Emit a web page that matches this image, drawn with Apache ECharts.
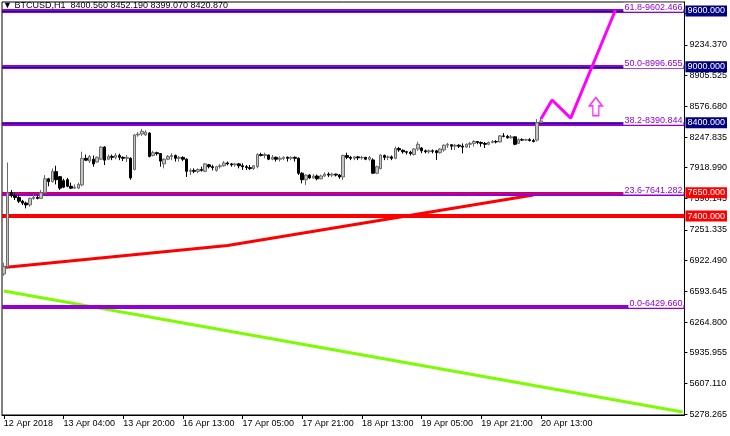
<!DOCTYPE html>
<html>
<head>
<meta charset="utf-8">
<script src="https://cdn.jsdelivr.net/npm/echarts@6/dist/echarts.min.js"></script>
<style>html,body{margin:0;padding:0;background:#fff}#c{width:730px;height:436px}</style>
</head>
<body>
<div id="c"></div>
<script>
// ---------- data ----------
const barCount = 183; // hourly slots incl. empty future area
const tickLabels = ['12 Apr 2018','13 Apr 04:00','13 Apr 20:00','16 Apr 13:00','17 Apr 05:00','17 Apr 21:00','18 Apr 13:00','19 Apr 05:00','19 Apr 21:00','20 Apr 13:00'];
const tickStep = 16;
const yTickValues = [9573.180,9234.370,8905.525,8576.680,8247.835,7918.990,7590.145,7251.335,6922.490,6593.645,6264.800,5935.955,5607.110,5278.265];

const opens = [6780,6858,7650,7620,7600,7560,7540,7520,7590,7600,
 7590,7650,7800,7770,7877,7823,7780,7790,7720,7700,
 7700,7734,8020,7990,8010,7980,8010,8140,8010,8040,
 8030,8050,8030,8020,8020,7900,8270,8280,8270,8290,
 8050,8080,8070,7960,8010,8040,8050,8020,8030,8010,
 7880,7890,7880,7900,7880,7950,7930,7890,7930,7940,
 7970,7960,7950,7960,7940,7930,7920,7910,7930,8060,
 8050,8055,8010,8030,8010,8020,8030,8020,8030,8020,
 7860,7790,7840,7810,7830,7800,7830,7850,7840,7850,
 7840,7820,8050,8030,8020,8035,8025,8030,8010,8002,
 7860,7910,8050,8030,8035,8020,8125,8105,8090,8085,
 8060,8120,8130,8100,8090,8100,8100,8080,8110,8160,
 8165,8150,8160,8150,8140,8170,8180,8200,8190,8180,
 8170,8190,8200,8195,8260,8255,8240,8250,8180,8220,
 8215,8220,8210,8215,8400.56];
const closes = [6858,7650,7620,7600,7560,7540,7520,7590,7600,7590,
 7650,7800,7770,7880,7790,7700,7710,7720,7700,7710,
 7740,8019,8000,8040,7960,8030,8140,8000,8040,8030,
 8050,8030,8020,8030,7810,8270,8280,8310,8300,8040,
 8080,8070,7990,8010,8040,8050,8020,8030,8010,7880,
 7890,7880,7900,7890,7960,7930,7920,7930,7940,7970,
 7960,7950,7960,7940,7930,7920,7910,7940,8060,8050,
 8060,8010,8030,8010,8020,8030,8020,8030,8020,7860,
 7790,7840,7810,7830,7800,7830,7850,7840,7850,7840,
 7820,8050,8030,8020,8035,8025,8030,8010,8030,7860,
 7930,8055,8030,8035,8020,8125,8110,8090,8085,8070,
 8120,8170,8100,8090,8100,8095,8080,8120,8160,8170,
 8150,8160,8150,8140,8170,8180,8200,8190,8180,8170,
 8190,8200,8195,8260,8255,8240,8250,8170,8220,8215,
 8220,8210,8200,8400,8420.87];
const lows = [6760,6840,7600,7573,7540,7519,7483,7500,7575,7580,
 7585,7640,7720,7760,7740,7680,7700,7710,7690,7690,
 7690,7720,7990,7970,7930,7975,8000,7948,8000,8000,
 8010,8000,7990,7980,7790,7890,8250,8260,8260,8030,
 8040,8050,7930,7912,8000,8000,7985,7985,7990,7820,
 7840,7860,7860,7877,7870,7912,7890,7877,7910,7930,
 7945,7930,7930,7912,7895,7895,7895,7895,7912,8040,
 8020,8000,8000,7985,7985,8000,7985,8000,7985,7841,
 7751,7734,7800,7800,7785,7795,7820,7820,7820,7825,
 7800,7787,8010,8000,8000,8000,8005,8000,7995,7852,
 7850,7900,8000,8000,8000,8010,8090,8070,8060,8050,
 8050,8100,8075,8073,8070,8073,8002,8070,8090,8130,
 8110,8110,8130,8073,8130,8130,8145,8170,8145,8130,
 8160,8180,8180,8190,8245,8230,8230,8160,8175,8205,
 8205,8200,8190,8200,8399.07];
const highs = [6900,7975,7680,7650,7630,7575,7555,7600,7640,7625,
 7680,7840,7810,7912,7940,7830,7800,7810,7760,7740,
 7760,8091,8060,8055,8050,8040,8150,8150,8060,8060,
 8075,8070,8040,8055,8030,8280,8300,8335,8320,8300,
 8100,8090,8075,8020,8055,8075,8060,8045,8040,8020,
 7912,7912,7912,7930,7970,7960,7950,7940,7960,7990,
 7985,7970,7970,7970,7965,7948,7948,7948,8075,8080,
 8080,8060,8055,8040,8040,8040,8040,8040,8040,8030,
 7870,7850,7850,7850,7845,7845,7870,7870,7865,7855,
 7850,8060,8080,8045,8045,8045,8045,8035,8045,8020,
 7940,8065,8060,8050,8050,8145,8140,8115,8100,8100,
 8130,8197,8140,8115,8115,8115,8110,8130,8170,8185,
 8170,8175,8170,8180,8180,8195,8215,8200,8200,8195,
 8200,8215,8215,8270,8290,8270,8270,8255,8235,8235,
 8230,8235,8230,8440,8452.19];

const headerOHLC = [8400.560, 8452.190, 8399.070, 8420.870];
const navyLevels = [9600, 9000, 8400];
const redLevels = [7650, 7400];
const fiboRatios = ['61.8','50.0','38.2','23.6','0.0'];
const fiboValues = [9602.466, 8996.655, 8390.844, 7641.282, 6429.660];
const redTrend = [[0, 6850], [60, 7085], [142, 7627]];
const greenTrend = [[0, 6597], [182, 5300]];
const projection = [[144, 8440], [147, 8645], [152, 8450], [164, 9610]];
const arrowPoint = [[159, 8575]];

// ---------- chart ----------
const FONT = "'Liberation Sans', Arial, sans-serif";
const PURPLE = '#9400D3', NAVY = '#000080', RED = '#FF0000';
const categories = Array.from({length: barCount}, (_, i) => i);
const candleData = opens.map((o, i) => [o, closes[i], lows[i], highs[i]]);
const showTick = (idx) => idx % tickStep === 0 && idx / tickStep < tickLabels.length;

const markData = [];
fiboValues.forEach((v, i) => {
  markData.push({
    yAxis: v,
    lineStyle: {color: PURPLE, width: 4, type: 'solid'},
    label: {show: true, position: 'insideEndTop', formatter: fiboRatios[i] + '-' + v.toFixed(3),
      color: PURPLE, fontSize: 9, fontFamily: FONT, backgroundColor: '#fff', padding: [0, 1, 0, 1], distance: [1, -1]}
  });
});
navyLevels.forEach(v => {
  markData.push({
    yAxis: v,
    lineStyle: {color: NAVY, width: 1, type: 'solid'},
    label: {show: true, position: 'end', formatter: v.toFixed(3), color: '#fff', backgroundColor: NAVY,
      fontSize: 9, fontFamily: FONT, padding: [1, 2, 1, 2], distance: 1}
  });
});
redLevels.forEach((v, i) => {
  markData.push({
    yAxis: v,
    lineStyle: {color: RED, width: i === 0 ? 1 : 4, type: 'solid'},
    label: {show: true, position: 'end', formatter: v.toFixed(3), color: '#fff', backgroundColor: RED,
      fontSize: 9, fontFamily: FONT, padding: [1, 2, 1, 2], distance: 1}
  });
});

const chart = echarts.init(document.getElementById('c'), null, {renderer: 'canvas'});
chart.setOption({
  animation: false,
  backgroundColor: '#fff',
  title: {
    text: '\u25BC BTCUSD,H1  ' + headerOHLC.map(v => v.toFixed(3)).join(' '),
    left: 3, top: 1, padding: 0,
    textStyle: {fontSize: 9, fontWeight: 'normal', color: '#000', fontFamily: FONT}
  },
  grid: {left: 2, right: 44, top: 2, bottom: 21, show: true, borderColor: '#000', borderWidth: 1},
  xAxis: {
    type: 'category', data: categories, boundaryGap: true,
    axisLine: {show: true, lineStyle: {color: '#000', width: 1}},
    axisTick: {show: true, interval: (idx) => showTick(idx), alignWithLabel: true, length: 4, lineStyle: {color: '#000'}},
    axisLabel: {interval: (idx) => showTick(idx), formatter: (v, idx) => tickLabels[idx / tickStep] || '',
      align: 'left', fontSize: 9, color: '#000', fontFamily: FONT, margin: 4},
    splitLine: {show: false}
  },
  yAxis: {
    type: 'value', position: 'right', min: 5268.0, max: 9695.4,
    splitLine: {show: false},
    axisLine: {show: true, lineStyle: {color: '#000'}},
    axisTick: {show: true, length: 3, customValues: yTickValues, lineStyle: {color: '#000'}},
    axisLabel: {customValues: yTickValues, formatter: (v) => v.toFixed(3), fontSize: 9, color: '#000', fontFamily: FONT, margin: 5}
  },
  series: [
    {
      type: 'line', data: greenTrend, showSymbol: false, symbol: 'none',
      lineStyle: {color: '#7CFC00', width: 3}, z: 1, silent: true
    },
    {
      type: 'line', data: redTrend, showSymbol: false, symbol: 'none',
      lineStyle: {color: RED, width: 3}, z: 1, silent: true
    },
    {
      type: 'candlestick', data: candleData, barWidth: 3, z: 3,
      itemStyle: {color: '#c4c4c4', color0: '#000', borderColor: '#6a6a6a', borderColor0: '#000', borderWidth: 1},
      markLine: {silent: true, symbol: ['none', 'none'], animation: false, data: markData, z: 2}
    },
    {
      type: 'line', data: projection, showSymbol: false, symbol: 'none',
      lineStyle: {color: '#FF00FF', width: 3}, z: 4, silent: true
    },
    {
      type: 'scatter', data: arrowPoint, z: 4, silent: true,
      symbol: 'path://M6.5,0 L13,8 L9.5,8 L9.5,17 L3.5,17 L3.5,8 L0,8 Z',
      symbolSize: [13, 18], symbolOffset: [-1, 0],
      itemStyle: {color: '#fff', borderColor: '#FF00FF', borderWidth: 1.5}
    }
  ]
});
</script>
</body>
</html>
